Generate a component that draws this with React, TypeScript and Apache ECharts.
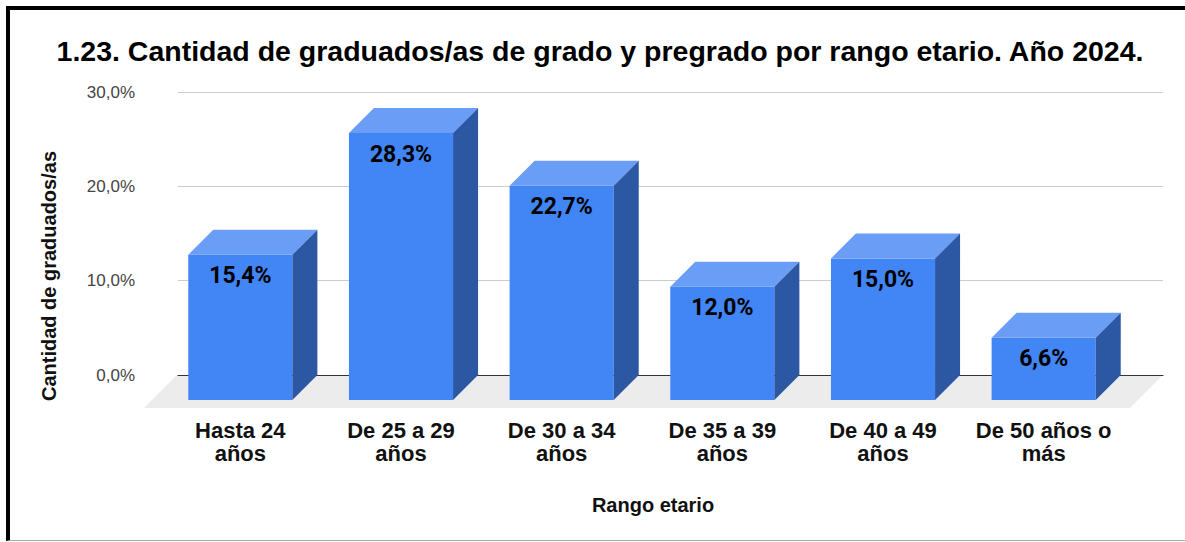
import React, { useEffect, useRef } from "react";
import * as echarts from "echarts";

const titleText = "1.23. Cantidad de graduados/as de grado y pregrado por rango etario. Año 2024.";
const yAxisTitle = "Cantidad de graduados/as";
const xAxisTitle = "Rango etario";
const categories = [
  "Hasta 24\naños",
  "De 25 a 29\naños",
  "De 30 a 34\naños",
  "De 35 a 39\naños",
  "De 40 a 49\naños",
  "De 50 años o\nmás",
];
const values = [15.4, 28.3, 22.7, 12.0, 15.0, 6.6];
const yMin = 0;
const yMax = 30;
const yInterval = 10;

const FRONT = "#4285f4";
const TOP = "#6a9df5";
const SIDE = "#2c58a3";
const DEPTH = 25;
const FLOOR_DEPTH = 33;
const BAR_RATIO = 0.648;
const SANS = "'Liberation Sans', Arial, sans-serif";

const fmt = (v: number) => v.toFixed(1).replace(".", ",") + "%";

export default function App() {
  const ref = useRef<HTMLDivElement>(null);
  useEffect(() => {
    if (!ref.current) return;
    const chart = echarts.init(ref.current, undefined, { renderer: "svg" });
    chart.setOption({
      animation: false,
      grid: [
        { left: 178, right: 22, top: 92, bottom: 167 },
        { left: 160, right: 61, top: 117, bottom: 142 },
      ],
      xAxis: [
        {
          type: "category",
          gridIndex: 0,
          data: categories,
          axisLabel: { show: false },
          axisTick: { show: false },
          axisLine: { show: true, lineStyle: { color: "#333", width: 1 } },
        },
        {
          type: "category",
          gridIndex: 1,
          data: categories,
          axisLine: { show: false },
          axisTick: { show: false },
          axisLabel: {
            margin: 19,
            fontFamily: SANS,
            fontWeight: "bold",
            fontSize: 22,
            lineHeight: 23,
            color: "#111",
            interval: 0,
          },
        },
      ],
      yAxis: [
        {
          type: "value",
          gridIndex: 0,
          min: yMin,
          max: yMax,
          interval: yInterval,
          axisLine: { show: false },
          axisTick: { show: false },
          splitLine: { lineStyle: { color: "#cccccc", width: 1 } },
          axisLabel: {
            formatter: (v: number) => fmt(v),
            margin: 43,
            fontFamily: SANS,
            fontSize: 17,
            color: "#444",
          },
        },
        {
          type: "value",
          gridIndex: 1,
          min: yMin,
          max: yMax,
          interval: yInterval,
          show: false,
        },
      ],
      graphic: [
        {
          type: "text",
          x: 600,
          y: 51,
          style: {
            text: titleText,
            textAlign: "center",
            textVerticalAlign: "middle",
            fontFamily: SANS,
            fontWeight: "bold",
            fontSize: 28.5,
            fill: "#000",
          },
        },
        {
          type: "text",
          x: 49,
          y: 276,
          rotation: Math.PI / 2,
          style: {
            text: yAxisTitle,
            textAlign: "center",
            textVerticalAlign: "middle",
            fontFamily: SANS,
            fontWeight: "bold",
            fontSize: 20,
            fill: "#111",
          },
        },
        {
          type: "text",
          x: 653,
          y: 505,
          style: {
            text: xAxisTitle,
            textAlign: "center",
            textVerticalAlign: "middle",
            fontFamily: SANS,
            fontWeight: "bold",
            fontSize: 20,
            fill: "#111",
          },
        },
      ],
      series: [
        {
          type: "custom",
          xAxisIndex: 0,
          yAxisIndex: 0,
          z: -1,
          clip: false,
          silent: true,
          data: [[0, 0]],
          renderItem: (params: any) => {
            const cs = params.coordSys;
            const yb = cs.y + cs.height;
            return {
              type: "polygon",
              shape: {
                points: [
                  [cs.x - 1, yb],
                  [cs.x + cs.width, yb],
                  [cs.x + cs.width - FLOOR_DEPTH, yb + FLOOR_DEPTH],
                  [cs.x - 1 - FLOOR_DEPTH, yb + FLOOR_DEPTH],
                ],
              },
              style: { fill: "#ececec" },
            };
          },
        },
        {
          type: "custom",
          xAxisIndex: 1,
          yAxisIndex: 1,
          z: 5,
          clip: false,
          data: values.map((v, i) => [i, v]),
          encode: { x: 0, y: 1 },
          renderItem: (params: any, api: any) => {
            const i = api.value(0);
            const v = api.value(1);
            const top = api.coord([i, v]);
            const base = api.coord([i, 0]);
            const w = api.size([1, 0])[0] * BAR_RATIO;
            const x0 = top[0] - w / 2;
            const x1 = top[0] + w / 2;
            const yT = top[1];
            const yB = base[1];
            return {
              type: "group",
              children: [
                {
                  type: "rect",
                  shape: { x: x0, y: yT, width: w, height: yB - yT },
                  style: { fill: FRONT },
                },
                {
                  type: "polygon",
                  shape: {
                    points: [
                      [x0, yT],
                      [x1, yT],
                      [x1 + DEPTH, yT - DEPTH],
                      [x0 + DEPTH, yT - DEPTH],
                    ],
                  },
                  style: { fill: TOP },
                },
                {
                  type: "polygon",
                  shape: {
                    points: [
                      [x1, yT],
                      [x1 + DEPTH, yT - DEPTH],
                      [x1 + DEPTH, yB - DEPTH],
                      [x1, yB],
                    ],
                  },
                  style: { fill: SIDE },
                },
                {
                  type: "text",
                  x: top[0],
                  y: yT + 21,
                  style: {
                    text: fmt(v),
                    textAlign: "center",
                    textVerticalAlign: "middle",
                    fontFamily: "Roboto, sans-serif",
                    fontWeight: "bold",
                    fontSize: 23,
                    fill: "#000",
                  },
                },
              ],
            };
          },
        },
      ],
    });
    return () => chart.dispose();
  }, []);

  return (
    <div style={{ position: "fixed", left: 0, top: 0, width: 1185, height: 542, background: "#fff" }}>
      <div ref={ref} style={{ position: "absolute", left: 0, top: 0, width: 1185, height: 542 }} />
      <div
        style={{
          position: "absolute",
          left: 6,
          top: 6,
          width: 1185,
          height: 535,
          boxSizing: "border-box",
          borderTop: "4px solid #000",
          borderLeft: "4px solid #000",
          borderBottom: "1px solid #aaa",
          pointerEvents: "none",
        }}
      />
    </div>
  );
}
